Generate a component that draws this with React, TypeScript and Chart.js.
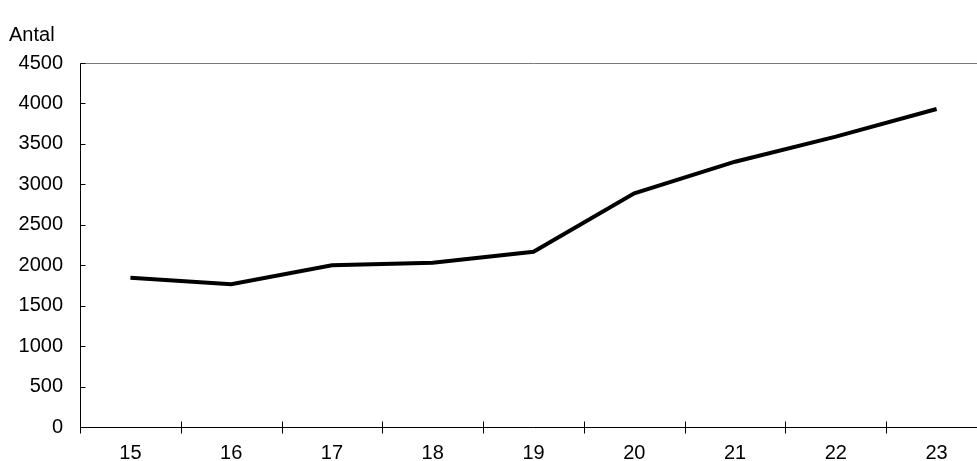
import React, { useEffect, useRef } from "react";
import { Chart, registerables } from "chart.js";

Chart.register(...registerables);

const categories = ["15", "16", "17", "18", "19", "20", "21", "22", "23"];
const values = [1846, 1764, 1999, 2031, 2167, 2889, 3280, 3589, 3931];
const yTicks = [0, 500, 1000, 1500, 2000, 2500, 3000, 3500, 4000, 4500];
const yLabel = "Antal";

const FONT = "'Liberation Sans', Arial, sans-serif";
const FONT_SIZE = 20;

const axesPlugin = {
  id: "customAxes",
  beforeDatasetsDraw(chart: any) {
    const { ctx, chartArea } = chart;
    const x = chart.scales.x;
    const y = chart.scales.y;
    const L = Math.round(chartArea.left) + 0.5;
    const R = chartArea.right;
    const T = Math.round(chartArea.top) + 0.5;
    const B = Math.round(chartArea.bottom) + 0.5;
    ctx.save();
    ctx.strokeStyle = "#7a7a7a";
    ctx.lineWidth = 1;
    ctx.beginPath();
    ctx.moveTo(L, T);
    ctx.lineTo(R, T);
    ctx.stroke();
    ctx.strokeStyle = "#000";
    ctx.beginPath();
    ctx.moveTo(L, T);
    ctx.lineTo(L, B + 6);
    ctx.stroke();
    ctx.beginPath();
    ctx.moveTo(L, B);
    ctx.lineTo(R, B);
    ctx.stroke();
    yTicks.forEach((v) => {
      if (v === 0) return;
      const py = Math.round(y.getPixelForValue(v)) + 0.5;
      ctx.beginPath();
      ctx.moveTo(L, py);
      ctx.lineTo(L + 5, py);
      ctx.stroke();
    });
    for (let i = 1; i < categories.length; i++) {
      const px =
        Math.round((x.getPixelForValue(i - 1) + x.getPixelForValue(i)) / 2) + 0.5;
      ctx.beginPath();
      ctx.moveTo(px, B - 6);
      ctx.lineTo(px, B + 6);
      ctx.stroke();
    }
    ctx.restore();
  },
  afterDraw(chart: any) {
    const { ctx } = chart;
    ctx.save();
    ctx.fillStyle = "#000";
    ctx.font = `${FONT_SIZE}px ${FONT}`;
    ctx.textBaseline = "alphabetic";
    ctx.textAlign = "left";
    ctx.fillText(yLabel, 9, 41);
    ctx.restore();
  },
};

export default function App() {
  const ref = useRef<HTMLCanvasElement | null>(null);

  useEffect(() => {
    if (!ref.current) return;
    const chart = new Chart(ref.current, {
      type: "line",
      data: {
        labels: categories,
        datasets: [
          {
            data: values,
            borderColor: "#000",
            borderWidth: 4,
            pointRadius: 0,
            tension: 0,
            fill: false,
          },
        ],
      },
      options: {
        responsive: false,
        animation: false,
        layout: { padding: { top: 63, left: 0, right: 0, bottom: 0 } },
        plugins: {
          legend: { display: false },
          tooltip: { enabled: false },
          title: { display: false },
        },
        scales: {
          x: {
            type: "category",
            offset: true,
            grid: { display: false, drawTicks: false, tickLength: 0 },
            border: { display: false },
            ticks: {
              color: "#000",
              font: { family: FONT, size: FONT_SIZE },
              padding: 14,
              maxRotation: 0,
              autoSkip: false,
            },
            afterFit(scale: any) {
              scale.height = 34;
            },
          },
          y: {
            type: "linear",
            min: 0,
            max: 4500,
            grid: { display: false, drawTicks: false, tickLength: 0 },
            border: { display: false },
            afterBuildTicks(scale: any) {
              scale.ticks = yTicks.map((v) => ({ value: v }));
            },
            ticks: {
              color: "#000",
              font: { family: FONT, size: FONT_SIZE },
              padding: 17,
              callback: (v: any) => String(v),
            },
            afterFit(scale: any) {
              scale.width = 80;
            },
          },
        },
      },
      plugins: [axesPlugin],
    });
    return () => chart.destroy();
  }, []);

  return (
    <div
      style={{
        position: "absolute",
        left: 0,
        top: 0,
        width: 977,
        height: 461,
        overflow: "hidden",
        background: "#fff",
      }}
    >
      <canvas ref={ref} width={987} height={461} style={{ display: "block" }} />
    </div>
  );
}
